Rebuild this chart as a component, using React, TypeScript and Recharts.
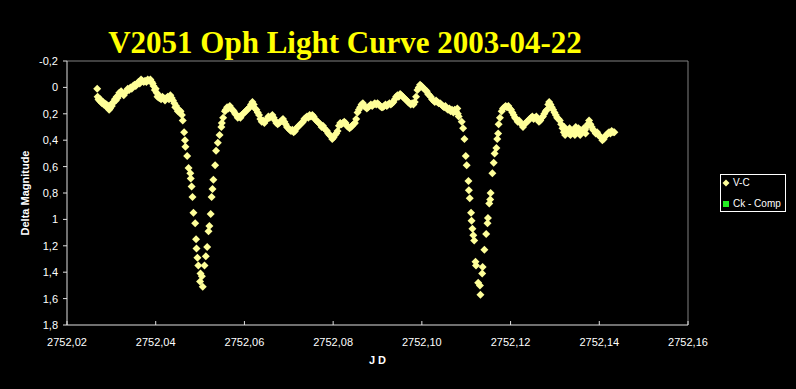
import React from 'react';
import { ScatterChart, Scatter, XAxis, YAxis, ReferenceLine } from 'recharts';

const title = 'V2051 Oph Light Curve 2003-04-22';
const xTicks = [2752.02, 2752.04, 2752.06, 2752.08, 2752.1, 2752.12, 2752.14, 2752.16];
const yTicks = [-0.2, 0, 0.2, 0.4, 0.6, 0.8, 1, 1.2, 1.4, 1.6, 1.8];

// V-C, [JD, delta magnitude]
const plateauA = [
  [2752.0268, 0.01], [2752.0269, 0.07], [2752.0271, 0.09], [2752.0273, 0.1], [2752.0275, 0.09],
  [2752.0277, 0.11], [2752.0279, 0.12], [2752.0281, 0.11], [2752.0283, 0.13], [2752.0285, 0.12],
  [2752.0287, 0.14], [2752.0289, 0.13], [2752.0291, 0.15], [2752.0293, 0.14], [2752.0295, 0.17],
  [2752.0297, 0.16], [2752.0299, 0.13], [2752.0301, 0.14], [2752.0303, 0.12], [2752.0305, 0.11],
  [2752.0308, 0.09], [2752.031, 0.1], [2752.0312, 0.07], [2752.0314, 0.08], [2752.0316, 0.06],
  [2752.0318, 0.04], [2752.032, 0.05], [2752.0322, 0.03], [2752.0325, 0.04], [2752.0328, 0.06],
  [2752.0331, 0.04], [2752.0334, 0.03], [2752.0337, 0.01], [2752.034, 0.02], [2752.0343, 0.0],
  [2752.0346, 0.01], [2752.0349, -0.01], [2752.0352, -0.02], [2752.0355, -0.01], [2752.0358, -0.03],
  [2752.0361, -0.04], [2752.0364, -0.03], [2752.0367, -0.06], [2752.037, -0.05], [2752.0373, -0.04],
  [2752.0376, -0.05], [2752.0379, -0.04], [2752.0382, -0.06], [2752.0385, -0.05], [2752.0388, -0.06],
  [2752.0391, -0.04], [2752.0393, -0.03], [2752.0395, -0.01], [2752.0398, 0.02], [2752.04, 0.01],
  [2752.0402, 0.04], [2752.0404, 0.07], [2752.0406, 0.06], [2752.0408, 0.08], [2752.041, 0.07],
  [2752.0412, 0.09], [2752.0415, 0.07], [2752.0418, 0.08], [2752.0421, 0.1], [2752.0424, 0.08],
  [2752.0427, 0.07], [2752.043, 0.09], [2752.0433, 0.06], [2752.0436, 0.08], [2752.0439, 0.1],
  [2752.0442, 0.12], [2752.0444, 0.15], [2752.0446, 0.14], [2752.0448, 0.16], [2752.045, 0.18],
  [2752.0452, 0.17], [2752.0454, 0.19], [2752.0456, 0.18],
];

const eclipseA = [
  [2752.0459, 0.21], [2752.0461, 0.25], [2752.0464, 0.34], [2752.0466, 0.4], [2752.0467, 0.45],
  [2752.0471, 0.52], [2752.0474, 0.61], [2752.0478, 0.65], [2752.0479, 0.69], [2752.0481, 0.75],
  [2752.0483, 0.83], [2752.0485, 0.95], [2752.0489, 1.03], [2752.0491, 1.15], [2752.0492, 1.22],
  [2752.0494, 1.29], [2752.0496, 1.35], [2752.05, 1.47], [2752.0501, 1.41], [2752.0504, 1.43],
  [2752.0506, 1.51],
  [2752.051, 1.35], [2752.0513, 1.28], [2752.0516, 1.21], [2752.0519, 1.09], [2752.0521, 1.05],
  [2752.0524, 0.96], [2752.0526, 0.83], [2752.0528, 0.77], [2752.053, 0.7], [2752.0534, 0.59],
  [2752.0536, 0.48], [2752.054, 0.42], [2752.0544, 0.36], [2752.0548, 0.3], [2752.0549, 0.27],
  [2752.0552, 0.23], [2752.0556, 0.18],
];

const plateauB = [
  [2752.0558, 0.17], [2752.0561, 0.15], [2752.0564, 0.16], [2752.0567, 0.14], [2752.057, 0.16],
  [2752.0573, 0.17], [2752.0576, 0.18], [2752.0579, 0.2], [2752.0582, 0.21], [2752.0585, 0.23],
  [2752.0588, 0.22], [2752.0591, 0.23], [2752.0594, 0.21], [2752.0597, 0.2], [2752.06, 0.19],
  [2752.0603, 0.18], [2752.0606, 0.17], [2752.0609, 0.16], [2752.0612, 0.15], [2752.0615, 0.13],
  [2752.0618, 0.11], [2752.0621, 0.13], [2752.0624, 0.16], [2752.0627, 0.17], [2752.063, 0.19],
  [2752.0633, 0.21], [2752.0636, 0.24], [2752.0639, 0.26], [2752.0642, 0.25], [2752.0645, 0.27],
  [2752.0648, 0.25], [2752.0651, 0.24], [2752.0654, 0.22], [2752.0657, 0.23], [2752.066, 0.22],
  [2752.0663, 0.21], [2752.0666, 0.23], [2752.0669, 0.25], [2752.0672, 0.27], [2752.0675, 0.28],
  [2752.0678, 0.27], [2752.0681, 0.26], [2752.0684, 0.25], [2752.0687, 0.24], [2752.069, 0.26],
  [2752.0693, 0.28], [2752.0696, 0.3], [2752.0699, 0.31], [2752.0702, 0.32], [2752.0705, 0.33],
  [2752.0708, 0.32], [2752.0711, 0.34], [2752.0714, 0.33], [2752.0717, 0.31], [2752.072, 0.3],
  [2752.0723, 0.29], [2752.0726, 0.28], [2752.0729, 0.27], [2752.0732, 0.26], [2752.0735, 0.24],
  [2752.0738, 0.23], [2752.0741, 0.22], [2752.0744, 0.23], [2752.0747, 0.21], [2752.075, 0.22],
  [2752.0753, 0.21], [2752.0756, 0.22], [2752.0759, 0.24], [2752.0762, 0.25], [2752.0765, 0.26],
  [2752.0768, 0.27], [2752.0771, 0.28], [2752.0774, 0.3], [2752.0777, 0.29], [2752.078, 0.31],
  [2752.0783, 0.32], [2752.0786, 0.33], [2752.0789, 0.35], [2752.0792, 0.36], [2752.0795, 0.37],
  [2752.0798, 0.39], [2752.0801, 0.38], [2752.0804, 0.36], [2752.0807, 0.35], [2752.081, 0.33],
  [2752.0813, 0.29], [2752.0816, 0.27], [2752.0819, 0.28], [2752.0822, 0.27], [2752.0825, 0.26],
  [2752.0828, 0.27], [2752.0831, 0.29], [2752.0834, 0.3], [2752.0837, 0.31], [2752.084, 0.3],
  [2752.0843, 0.29], [2752.0846, 0.28], [2752.0849, 0.27], [2752.0852, 0.24], [2752.0855, 0.19],
  [2752.0858, 0.17], [2752.0861, 0.15], [2752.0864, 0.13], [2752.0867, 0.12], [2752.087, 0.14],
  [2752.0873, 0.15], [2752.0876, 0.16], [2752.0879, 0.15], [2752.0882, 0.14], [2752.0885, 0.13],
  [2752.0888, 0.14], [2752.0891, 0.13], [2752.0894, 0.12], [2752.0897, 0.13], [2752.09, 0.12],
  [2752.0903, 0.13], [2752.0906, 0.14], [2752.0909, 0.15], [2752.0912, 0.15], [2752.0915, 0.14],
  [2752.0918, 0.13], [2752.0921, 0.14], [2752.0924, 0.13], [2752.0927, 0.12], [2752.093, 0.13],
  [2752.0933, 0.12], [2752.0936, 0.11], [2752.0939, 0.09], [2752.0942, 0.07], [2752.0945, 0.06],
  [2752.0948, 0.07], [2752.0951, 0.05], [2752.0954, 0.06], [2752.0957, 0.07], [2752.096, 0.08],
  [2752.0963, 0.09], [2752.0966, 0.1], [2752.0969, 0.11], [2752.0972, 0.12], [2752.0975, 0.13],
  [2752.0978, 0.12], [2752.0981, 0.13], [2752.0984, 0.11], [2752.0987, 0.07], [2752.099, 0.02],
  [2752.0993, 0.0], [2752.0996, -0.02], [2752.0999, -0.01], [2752.1002, 0.0], [2752.1005, 0.01],
  [2752.1008, 0.02], [2752.1011, 0.03], [2752.1014, 0.05], [2752.1017, 0.06], [2752.102, 0.07],
  [2752.1023, 0.09], [2752.1026, 0.1], [2752.1029, 0.11], [2752.1032, 0.1], [2752.1035, 0.11],
  [2752.1038, 0.12], [2752.1041, 0.12], [2752.1044, 0.13], [2752.1047, 0.14], [2752.105, 0.15],
  [2752.1053, 0.14], [2752.1056, 0.16], [2752.1059, 0.17], [2752.1062, 0.16], [2752.1065, 0.18],
  [2752.1068, 0.17], [2752.1071, 0.19], [2752.1074, 0.17], [2752.1077, 0.18], [2752.108, 0.16],
];

const eclipseB = [
  [2752.1081, 0.2], [2752.1083, 0.22], [2752.109, 0.26], [2752.1093, 0.31], [2752.1096, 0.39],
  [2752.1099, 0.52], [2752.1101, 0.59], [2752.1105, 0.71], [2752.1106, 0.78], [2752.1108, 0.84],
  [2752.1111, 0.95], [2752.1112, 1.01], [2752.1114, 1.07], [2752.1116, 1.12], [2752.1118, 1.16],
  [2752.1121, 1.32], [2752.1122, 1.35], [2752.1127, 1.48], [2752.1131, 1.5], [2752.1132, 1.57],
  [2752.1136, 1.41], [2752.1137, 1.36], [2752.1141, 1.23], [2752.1145, 1.11], [2752.1148, 1.03],
  [2752.1149, 0.99], [2752.1152, 0.88], [2752.1154, 0.85], [2752.1155, 0.8], [2752.1159, 0.65],
  [2752.1162, 0.57], [2752.1164, 0.5], [2752.1168, 0.46], [2752.117, 0.39], [2752.1172, 0.35],
  [2752.1173, 0.28], [2752.1176, 0.23], [2752.118, 0.18],
];

const plateauC = [
  [2752.1183, 0.16], [2752.1186, 0.15], [2752.1189, 0.14], [2752.1192, 0.15], [2752.1195, 0.14],
  [2752.1198, 0.16], [2752.1201, 0.17], [2752.1204, 0.19], [2752.1207, 0.21], [2752.121, 0.23],
  [2752.1213, 0.24], [2752.1216, 0.26], [2752.1219, 0.25], [2752.1222, 0.27], [2752.1225, 0.28],
  [2752.1228, 0.3], [2752.1231, 0.28], [2752.1234, 0.27], [2752.1237, 0.26], [2752.124, 0.25],
  [2752.1243, 0.24], [2752.1246, 0.23], [2752.1249, 0.22], [2752.1252, 0.24], [2752.1255, 0.23],
  [2752.1258, 0.22], [2752.1261, 0.24], [2752.1264, 0.26], [2752.1267, 0.25], [2752.127, 0.23],
  [2752.1273, 0.22], [2752.1276, 0.2], [2752.1279, 0.18], [2752.1282, 0.17], [2752.1285, 0.13],
  [2752.1287, 0.11], [2752.129, 0.13], [2752.1293, 0.15], [2752.1296, 0.17], [2752.1299, 0.19],
  [2752.1302, 0.21], [2752.1305, 0.23], [2752.1308, 0.24], [2752.1311, 0.25], [2752.1314, 0.28],
  [2752.1317, 0.31], [2752.132, 0.34], [2752.1321, 0.3], [2752.1323, 0.36], [2752.1326, 0.34],
  [2752.1329, 0.33], [2752.1332, 0.35], [2752.1333, 0.31], [2752.1335, 0.36], [2752.1338, 0.34],
  [2752.1341, 0.33], [2752.1344, 0.32], [2752.1345, 0.36], [2752.1347, 0.3], [2752.135, 0.33],
  [2752.1353, 0.31], [2752.1356, 0.32], [2752.1357, 0.36], [2752.1359, 0.34], [2752.1362, 0.33],
  [2752.1365, 0.31], [2752.1368, 0.32], [2752.1369, 0.35], [2752.1371, 0.3], [2752.1374, 0.28],
  [2752.1377, 0.25], [2752.138, 0.28], [2752.1383, 0.3], [2752.1386, 0.32], [2752.1389, 0.33],
  [2752.1392, 0.35], [2752.1395, 0.34], [2752.1398, 0.36], [2752.1401, 0.37], [2752.1404, 0.38],
  [2752.1407, 0.4], [2752.141, 0.39], [2752.1413, 0.37], [2752.1416, 0.36], [2752.1419, 0.35],
  [2752.1422, 0.34], [2752.1425, 0.35], [2752.1428, 0.33], [2752.1431, 0.34], [2752.1434, 0.34],
];

// comparison check star: listed in the legend, nothing plotted
const ckComp: number[][] = [];

const toPoints = (rows: number[][]) => rows.map(([jd, mag]) => ({ jd, mag }));
const vcData = toPoints([...plateauA, ...eclipseA, ...plateauB, ...eclipseB, ...plateauC]);
const ckData = toPoints(ckComp);

const fmtX = (v: number) => v.toFixed(2).replace('.', ',');
const fmtY = (v: number) => String(Math.round(v * 10) / 10).replace('.', ',');

const font = '"Liberation Sans", Arial, sans-serif';
const tickStyle = { fill: '#ffffff', fontSize: 11, fontFamily: font };

const Diamond = (props: any) => {
  const { cx, cy } = props;
  if (cx == null || cy == null) return null;
  const r = 4;
  return <path d={`M${cx},${cy - r}L${cx + r},${cy}L${cx},${cy + r}L${cx - r},${cy}Z`} fill="#ffff99" />;
};

const App = () => {
  return (
    <div style={{ position: 'fixed', left: 0, top: 0, width: 796, height: 389, background: '#000', overflow: 'hidden' }}>
      <div
        style={{
          position: 'absolute', left: 0, top: 27, width: 690, textAlign: 'center',
          color: '#ffff00', fontFamily: '"Liberation Serif", "Times New Roman", serif',
          fontWeight: 'bold', fontSize: 31, lineHeight: '31px', whiteSpace: 'nowrap',
        }}
      >
        {title}
      </div>
      <ScatterChart width={796} height={389} margin={{ top: 61, right: 108, bottom: 0, left: 0 }}>
        <XAxis
          dataKey="jd" type="number" domain={[2752.02, 2752.16]} ticks={xTicks} tickFormatter={fmtX}
          allowDataOverflow height={64} interval={0}
          stroke="#e0e0e0" tick={tickStyle} tickSize={-4} tickMargin={17}
          label={{ value: 'J D', position: 'insideBottom', offset: 25, fill: '#ffffff', fontSize: 11, fontWeight: 'bold', fontFamily: font }}
        />
        <YAxis
          dataKey="mag" type="number" domain={[-0.2, 1.8]} ticks={yTicks} tickFormatter={fmtY}
          reversed allowDataOverflow width={67} interval={0}
          stroke="#e0e0e0" tick={tickStyle} tickSize={4} tickMargin={5}
          label={{ value: 'Delta Magnitude', angle: -90, position: 'insideLeft', offset: 25, fill: '#ffffff', fontSize: 11, fontWeight: 'bold', fontFamily: font, style: { textAnchor: 'middle' } }}
        />
        <ReferenceLine y={-0.2} stroke="#808080" ifOverflow="visible" />
        <ReferenceLine x={2752.16} stroke="#808080" ifOverflow="visible" />
        <Scatter name="V-C" data={vcData} fill="#ffff99" shape={Diamond} isAnimationActive={false} />
        <Scatter name="Ck - Comp" data={ckData} fill="#22ee22" shape="square" isAnimationActive={false} />
      </ScatterChart>
      <div
        style={{
          position: 'absolute', left: 720, top: 174, width: 64, height: 36, border: '1px solid #ffffff',
          color: '#ffffff', fontFamily: font, fontSize: 10, lineHeight: '12px',
        }}
      >
        <div style={{ position: 'absolute', left: 1, top: 2, whiteSpace: 'nowrap' }}>
          <svg width={8} height={8} style={{ verticalAlign: 'middle', marginRight: 3 }}>
            <path d="M4,0.5L7.5,4L4,7.5L0.5,4Z" fill="#ffff99" />
          </svg>
          V-C
        </div>
        <div style={{ position: 'absolute', left: 1, top: 23, whiteSpace: 'nowrap' }}>
          <svg width={8} height={8} style={{ verticalAlign: 'middle', marginRight: 3 }}>
            <rect x={1} y={1} width={6} height={6} fill="#22ee22" />
          </svg>
          Ck - Comp
        </div>
      </div>
    </div>
  );
};

export default App;
